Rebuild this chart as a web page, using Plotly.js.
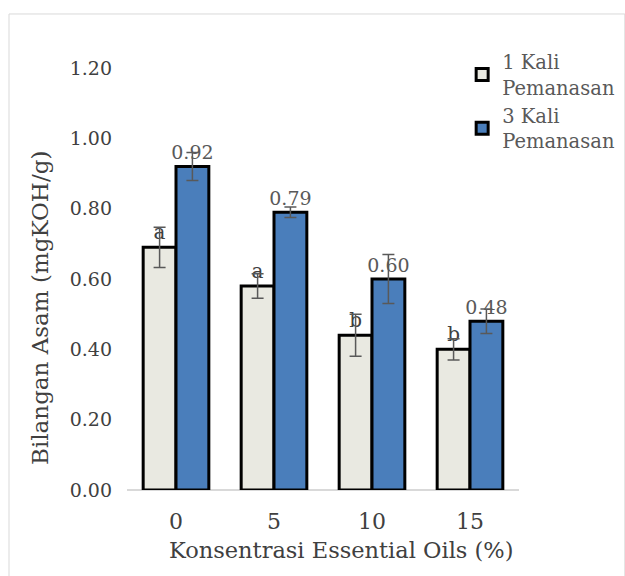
<!DOCTYPE html>
<html>
<head>
<meta charset="utf-8">
<script src="https://cdn.plot.ly/plotly-3.0.1.min.js"></script>
<style>html,body{margin:0;padding:0;background:#fff;}#chart{width:625px;height:576px;}</style>
</head>
<body>
<div id="chart"></div>
<script>
var categories = ['0', '5', '10', '15'];
var series1Name = '1 Kali<br>Pemanasan';
var series2Name = '3 Kali<br>Pemanasan';
var series1Values = [0.69, 0.58, 0.44, 0.40];
var series1Errors = [0.057, 0.035, 0.06, 0.03];
var series1Labels = ['a', 'a', 'b', 'b'];
var series2Values = [0.92, 0.79, 0.60, 0.48];
var series2Errors = [0.04, 0.015, 0.07, 0.035];
var series2Labels = ['0.92', '0.79', '0.60', '0.48'];
var yTickVals = [0, 0.2, 0.4, 0.6, 0.8, 1.0, 1.2];
var yTickText = ['0.00', '0.20', '0.40', '0.60', '0.80', '1.00', '1.20'];
var xTitle = 'Konsentrasi Essential Oils (%)';
var yTitle = 'Bilangan Asam (mgKOH/g)';

var FONT = 'DejaVu Serif, Liberation Serif, serif';

var trace1 = {
  type: 'bar', name: series1Name, x: categories, y: series1Values,
  marker: {color: '#e9e9e1', line: {color: '#000000', width: 3}},
  error_y: {type: 'data', array: series1Errors, visible: true, color: '#595959', thickness: 1.5, width: 6},
  text: series1Labels, textposition: 'outside', cliponaxis: false, constraintext: 'none',
  textfont: {family: FONT, size: 20, color: '#404040'}
};
var trace2 = {
  type: 'bar', name: series2Name, x: categories, y: series2Values,
  marker: {color: '#4a7ebb', line: {color: '#000000', width: 3}},
  error_y: {type: 'data', array: series2Errors, visible: true, color: '#595959', thickness: 1.5, width: 6},
  text: series2Labels, textposition: 'outside', cliponaxis: false, constraintext: 'none',
  textfont: {family: FONT, size: 19, color: '#595959'}
};

var layout = {
  width: 625, height: 576,
  margin: {l: 127, r: 106, t: 68, b: 86, autoexpand: false},
  paper_bgcolor: '#ffffff', plot_bgcolor: '#ffffff',
  font: {family: FONT, size: 18, color: '#404040'},
  barmode: 'group', bargap: 0.33, bargroupgap: 0,
  showlegend: true,
  legend: {x: 0.855, y: 1.06, xanchor: 'left', yanchor: 'top',
           font: {family: FONT, size: 19.5, color: '#595959'},
           bgcolor: 'rgba(0,0,0,0)', tracegroupgap: 6},
  xaxis: {type: 'category', range: [-0.5, 3.5], showgrid: false, zeroline: false,
          showline: false, ticks: '', ticklabelstandoff: 16,
          tickfont: {family: FONT, size: 22, color: '#404040'}, fixedrange: true},
  yaxis: {range: [0, 1.2], tickvals: yTickVals, ticktext: yTickText, showgrid: false,
          zeroline: true, zerolinecolor: '#d9d9d9', zerolinewidth: 1.5,
          showline: false, ticks: '', ticklabelstandoff: 14,
          tickfont: {family: FONT, size: 19, color: '#404040'}, fixedrange: true},
  annotations: [
    {text: xTitle, xref: 'paper', yref: 'paper', x: 0.5, y: 0, xshift: 18, yshift: -60,
     showarrow: false, xanchor: 'center', yanchor: 'middle',
     font: {family: FONT, size: 22.5, color: '#404040'}},
    {text: yTitle, xref: 'paper', yref: 'paper', x: 0, y: 0.5, xshift: -87, yshift: -29,
     textangle: -90, showarrow: false, xanchor: 'center', yanchor: 'middle',
     font: {family: FONT, size: 23, color: '#404040'}}
  ],
  shapes: [
    {type: 'rect', xref: 'paper', yref: 'paper', x0: -0.301, x1: 1.27, y0: -0.25, y1: 1.128,
     line: {color: '#d9d9d9', width: 1}, fillcolor: 'rgba(0,0,0,0)', layer: 'below'}
  ]
};

Plotly.newPlot('chart', [trace1, trace2], layout, {displayModeBar: false, staticPlot: true});
</script>
</body>
</html>
